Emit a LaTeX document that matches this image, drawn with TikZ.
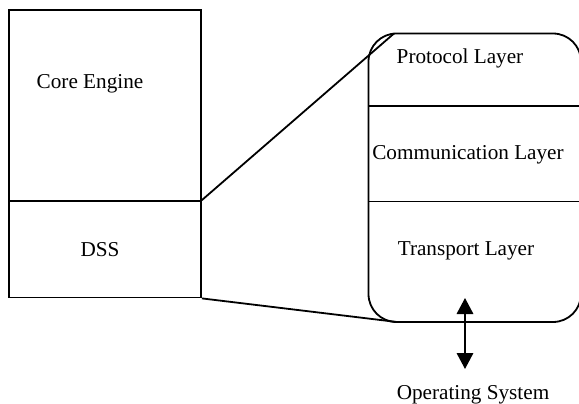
\documentclass[tikz,border=0pt]{standalone}
\usepackage{fontspec}
\setmainfont{Liberation Serif}
\usetikzlibrary{arrows.meta,calc}
\begin{document}
\begin{tikzpicture}[x=1pt,y=-1pt,
  box/.style={draw, line width=1.8pt, inner sep=0pt},
  wire/.style={line width=1.8pt},
  lbl/.style={font=\fontsize{21.2}{25}\selectfont, inner sep=0pt, anchor=base},
  biarrow/.style={wire, {Triangle[width=16.5pt,length=16pt]}-{Triangle[width=16.5pt,length=16pt]}}]
\useasboundingbox (0,0) rectangle (579,404);
\clip (0,0) rectangle (579,404);

% left column: core engine above DSS
\node[box, minimum width=192pt, minimum height=191pt] (core) at (105,105.5) {};
\node[box, minimum width=192pt, minimum height=96.5pt] (dss) at (105,249.25) {};
\node[lbl] (coreT) at (90,88.5) {Core Engine};
\node[lbl] (dssT) at (100,256.5) {DSS};

% expanded DSS stack
\node[box, rounded corners=28pt, minimum width=212.5pt, minimum height=288.5pt] (stack) at (474.75,177.75) {};
\coordinate (div1w) at (368.5,106);
\coordinate (div1e) at (581,106);
\coordinate (div2w) at (368.5,201.5);
\coordinate (div2e) at (581,201.5);
\draw[wire] (div1w) -- (div1e);
\draw[wire] (div2w) -- (div2e);
\node[lbl] (proto) at (460,64) {Protocol Layer};
\node[lbl] (comm) at (468,160) {Communication Layer};
\node[lbl] (trans) at (466,255.5) {Transport Layer};

% zoom lines from DSS to the stack
\coordinate (stackTop) at (394,33.5);
\coordinate (stackBot) at (397,322);
\draw[wire] (dss.north east) -- (stackTop);
\draw[wire] (dss.south east) -- (stackBot);

% link to the operating system
\node[lbl] (os) at (473,399) {Operating System};
\coordinate (osUp) at (465,298);
\coordinate (osDown) at (465,369);
\draw[biarrow] (osUp) -- (osDown);
\end{tikzpicture}
\end{document}
